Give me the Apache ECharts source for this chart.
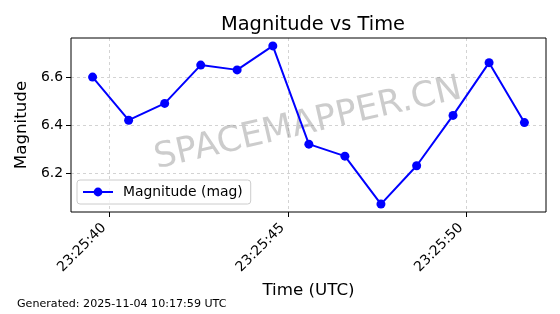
<!DOCTYPE html>
<html><head><meta charset="utf-8">
<script src="https://cdn.jsdelivr.net/npm/echarts@6/dist/echarts.min.js"></script>
<style>html,body{margin:0;padding:0;background:#fff}#c{width:560px;height:314px}</style>
</head><body><div id="c"></div>
<script>
const times = ["23:25:39.52","23:25:40.53","23:25:41.54","23:25:42.55","23:25:43.57","23:25:44.57","23:25:45.58","23:25:46.59","23:25:47.60","23:25:48.60","23:25:49.62","23:25:50.63","23:25:51.62"];
const magnitudes = [6.60, 6.42, 6.49, 6.65, 6.63, 6.73, 6.32, 6.27, 6.07, 6.23, 6.44, 6.66, 6.41];
const xTicks = ["23:25:40","23:25:45","23:25:50"];
const yTicks = [6.2, 6.4, 6.6];

function toSec(s){const p=s.split(':');return (+p[0])*3600+(+p[1])*60+parseFloat(p[2]);}
function fmt(v){v=Math.round(v);const h=Math.floor(v/3600),m=Math.floor((v%3600)/60),s=v%60;const z=n=>String(n).padStart(2,'0');return z(h)+':'+z(m)+':'+z(s);}
const xs = times.map(toSec);
const xTickVals = xTicks.map(toSec);
const xmin = Math.min(...xs), xmax = Math.max(...xs), xr = xmax-xmin;
const ymin = Math.min(...magnitudes), ymax = Math.max(...magnitudes), yr = ymax-ymin;
const FONT = 'DejaVu Sans';
const chart = echarts.init(document.getElementById('c'), null, {renderer:'canvas'});
const gridLine = {show:true, lineStyle:{color:'#c8c8c8', type:[3,3], width:0.8}};
chart.setOption({
  animation:false,
  textStyle:{fontFamily:FONT},
  title:{text:'Magnitude vs Time', left:308, top:10, textAlign:'center',
    textStyle:{fontFamily:FONT, fontSize:19.4, fontWeight:'normal', color:'#000'}},
  grid:{left:71, top:38, right:14, bottom:102, show:true, borderColor:'#000', borderWidth:1, backgroundColor:'transparent', z:3},
  legend:{show:true, left:77, top:180, orient:'vertical', itemWidth:30, itemHeight:11, itemGap:0,
    padding:[5,8,5,5], backgroundColor:'rgba(255,255,255,0.8)', borderColor:'#cccccc', borderWidth:1, borderRadius:3,
    textStyle:{fontFamily:FONT, fontSize:13.9, color:'#000', padding:[0,0,0,5]},
    data:[{name:'Magnitude (mag)'}]},
  xAxis:{type:'value', min:xmin-0.05*xr, max:xmax+0.05*xr,
    name:'Time (UTC)', nameLocation:'middle', nameGap:68,
    nameTextStyle:{fontFamily:FONT, fontSize:16.7, color:'#000'},
    axisLine:{show:false},
    axisTick:{show:true, customValues:xTickVals, length:5, lineStyle:{color:'#000', width:1}},
    axisLabel:{customValues:xTickVals, rotate:45, formatter:fmt, fontFamily:FONT, fontSize:13.9, color:'#000', margin:8, padding:[0,8,0,0]},
    splitLine:gridLine},
  yAxis:{type:'value', min:ymin-0.05*yr, max:ymax+0.05*yr,
    name:'Magnitude', nameLocation:'middle', nameGap:32,
    nameTextStyle:{fontFamily:FONT, fontSize:16.7, color:'#000'},
    axisLine:{show:false},
    axisTick:{show:true, customValues:yTicks, length:5, lineStyle:{color:'#000', width:1}},
    axisLabel:{customValues:yTicks, formatter:v=>v.toFixed(1), fontFamily:FONT, fontSize:13.9, color:'#000', margin:8},
    splitLine:gridLine},
  graphic:[
    {type:'text', x:308, y:124, rotation:13*Math.PI/180, z:1,
      style:{text:'SPACEMAPPER.CN', fontFamily:FONT, fontSize:35, fill:'rgba(128,128,128,0.4)', textAlign:'center', textVerticalAlign:'middle'}},
    {type:'text', left:17, top:299, z:5,
      style:{text:'Generated: 2025-11-04 10:17:59 UTC', fontFamily:FONT, fontSize:11.1, fill:'#000'}}
  ],
  series:[{name:'Magnitude (mag)', type:'line', data:xs.map((x,i)=>[x,magnitudes[i]]),
    symbol:'circle', symbolSize:9, z:4,
    lineStyle:{color:'#0000ff', width:2}, itemStyle:{color:'#0000ff'}}]
});
</script></body></html>
